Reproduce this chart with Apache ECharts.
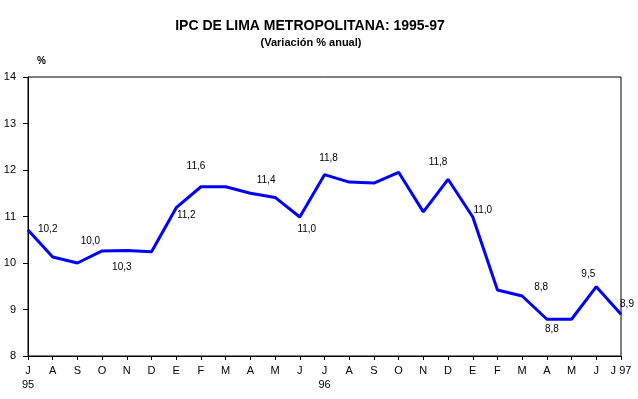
<!DOCTYPE html>
<html>
<head>
<meta charset="utf-8">
<script src="https://cdn.jsdelivr.net/npm/echarts@6/dist/echarts.min.js"></script>
<style>
  html, body { margin: 0; padding: 0; background: #fff; }
  #main { width: 638px; height: 399px; }
</style>
</head>
<body>
<div id="main"></div>
<script>
// meses (jul 95 - jul 97)
var months = ["J", "A", "S", "O", "N", "D", "E", "F", "M", "A", "M", "J",
  "J", "A", "S", "O", "N", "D", "E", "F", "M", "A", "M", "J", "J"];
// años bajo algunos meses
var years = { 0: "95", 12: "96", 24: "97" };
// variación % anual
var ipc = [10.71, 10.13, 10.00, 10.26, 10.27, 10.24, 11.19, 11.64, 11.64, 11.50, 11.41, 10.99,
  11.90, 11.74, 11.72, 11.95, 11.10, 11.80, 10.99, 9.42, 9.29, 8.79, 8.79, 9.49, 8.90];
// etiquetas de datos mostradas
var labelText = ["", "10,2", "10,0", "", "10,3", "", "11,2", "11,6", "", "", "11,4", "11,0",
  "11,8", "", "", "", "", "11,8", "11,0", "", "8,8", "8,8", "", "9,5", "8,9"];
var yTicks = [8, 9, 10, 11, 12, 13, 14];

// desplazamiento de cada etiqueta respecto al punto
var labelOffset = {
  1: [-5, -28], 2: [13, -22], 4: [-5, 17], 6: [10, 8], 7: [-5, -20],
  10: [-9, -17], 11: [7, 12], 12: [4, -16], 17: [-10, -17], 18: [10, -7],
  20: [19, -9], 21: [5, 10], 23: [-8, -12], 24: [6, -10]
};

var font = "Liberation Sans, Arial, sans-serif";

var seriesData = ipc.map(function (v, i) {
  var item = { value: v };
  if (labelText[i]) {
    item.label = {
      show: true,
      position: "inside",
      offset: labelOffset[i] || [0, -12],
      formatter: labelText[i],
      color: "#000",
      fontSize: 10,
      fontFamily: font
    };
  }
  return item;
});

var chartDom = document.getElementById("main");
var myChart = echarts.init(chartDom, null, { renderer: "canvas" });
var option = {
  backgroundColor: "#fff",
  animation: false,
  title: [
    {
      text: "IPC DE LIMA METROPOLITANA: 1995-97",
      left: 310,
      top: 19,
      padding: 0,
      textAlign: "center",
      textStyle: { fontSize: 14, fontWeight: "bold", color: "#000", fontFamily: font }
    },
    {
      text: "(Variación % anual)",
      left: 311,
      top: 37,
      padding: 0,
      textAlign: "center",
      textStyle: { fontSize: 11, fontWeight: "bold", color: "#000", fontFamily: font }
    },
    {
      text: "%",
      left: 37,
      top: 56,
      padding: 0,
      textStyle: { fontSize: 10, fontWeight: "bold", color: "#000", fontFamily: font }
    }
  ],
  grid: {
    left: 28,
    right: 17,
    top: 77,
    bottom: 43,
    show: true,
    borderColor: "#000",
    borderWidth: 1,
    backgroundColor: "transparent"
  },
  xAxis: {
    type: "category",
    data: months,
    boundaryGap: false,
    axisLine: { lineStyle: { color: "#000", width: 1 } },
    axisTick: { show: true, interval: 0, length: 4, lineStyle: { color: "#000" } },
    axisLabel: {
      interval: 0,
      margin: 8,
      color: "#000",
      fontSize: 11,
      lineHeight: 14,
      fontFamily: font,
      formatter: function (val, idx) {
        if (idx === 24) return val + " " + years[idx];
        if (years[idx]) return val + "\n" + years[idx];
        return val;
      }
    },
    splitLine: { show: false }
  },
  yAxis: {
    type: "value",
    min: yTicks[0],
    max: yTicks[yTicks.length - 1],
    interval: 1,
    axisLine: { show: true, lineStyle: { color: "#000", width: 1 } },
    axisTick: { show: true, length: 5, lineStyle: { color: "#000" } },
    axisLabel: { margin: 12, color: "#000", fontSize: 11, fontFamily: font },
    splitLine: { show: false }
  },
  series: [
    {
      name: "IPC",
      type: "line",
      data: seriesData,
      symbol: "circle",
      symbolSize: 1,
      showSymbol: true,
      itemStyle: { color: "#0000ff" },
      lineStyle: { color: "#0000ff", width: 3 },
      clip: false
    }
  ]
};

option && myChart.setOption(option);
</script>
</body>
</html>
